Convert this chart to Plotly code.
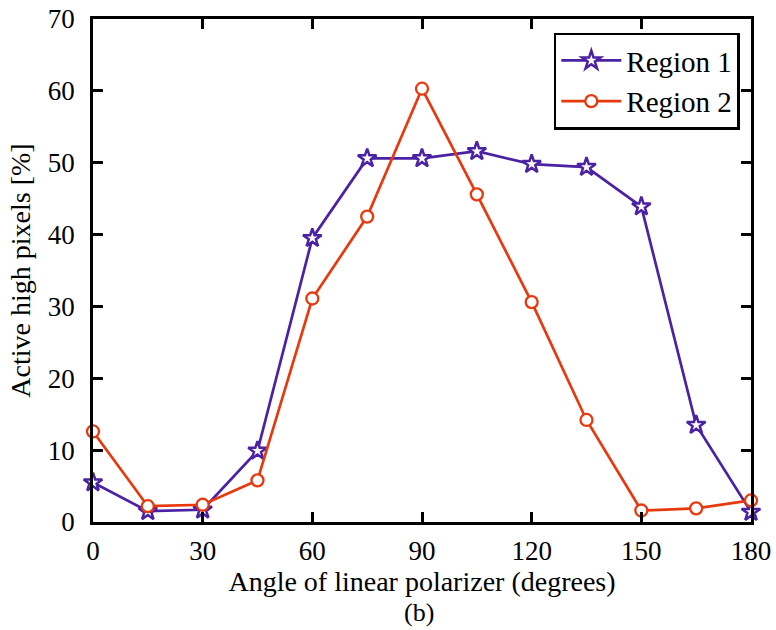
import plotly.graph_objects as go

# Polarizer angle (degrees)
angles = [0, 15, 30, 45, 60, 75, 90, 105, 120, 135, 150, 165, 180]

# Share of active high pixels [%] per region
region1 = [5.5, 1.5, 1.7, 9.9, 39.5, 50.6, 50.6, 51.6, 49.8, 49.4, 43.9, 13.5, 1.4]
region2 = [12.6, 2.2, 2.4, 5.8, 31.1, 42.5, 60.3, 45.6, 30.6, 14.2, 1.6, 1.9, 3.0]

x_ticks = [0, 30, 60, 90, 120, 150, 180]
y_ticks = [0, 10, 20, 30, 40, 50, 60, 70]

PURPLE = "#4b22a3"
ORANGE = "#e8380d"
FONT = "Liberation Serif, Times New Roman, serif"

fig = go.Figure()
fig.add_trace(go.Scatter(
    x=angles, y=region1, name="Region 1", mode="lines+markers",
    line=dict(color=PURPLE, width=2.7),
    marker=dict(symbol="star", size=14, color="white",
                line=dict(color=PURPLE, width=2.5)),
    cliponaxis=False,
))
fig.add_trace(go.Scatter(
    x=angles, y=region2, name="Region 2", mode="lines+markers",
    line=dict(color=ORANGE, width=2.7),
    marker=dict(symbol="circle", size=12, color="white",
                line=dict(color=ORANGE, width=2.3)),
    cliponaxis=False,
))

axis_common = dict(
    showline=True, linecolor="black", linewidth=2.5, mirror="ticks",
    ticks="inside", ticklen=10, tickwidth=2.5, tickcolor="black",
    showgrid=False, zeroline=False, automargin=False,
    tickfont=dict(family=FONT, size=27, color="black"),
    title_font=dict(family=FONT, size=28, color="black"),
)

fig.update_xaxes(
    range=[0, 180], tickvals=x_ticks, ticktext=[str(v) for v in x_ticks],
    title_text="Angle of linear polarizer (degrees)", title_standoff=0,
    ticklabelstandoff=3,
    **axis_common,
)
fig.update_yaxes(
    range=[0, 70], tickvals=y_ticks, ticktext=[str(v) for v in y_ticks],
    title_text="Active high pixels [%]", title_standoff=10,
    ticklabelstandoff=10,
    **axis_common,
)

fig.add_annotation(
    text="(b)", xref="paper", yref="paper", x=0.495, y=-0.18,
    xanchor="center", yanchor="middle", showarrow=False,
    font=dict(family=FONT, size=26, color="black"),
)

fig.update_layout(
    width=776, height=630,
    margin=dict(l=93, r=25, t=19, b=108),
    paper_bgcolor="white", plot_bgcolor="white",
    showlegend=True,
    legend=dict(
        x=0.983, y=0.973, xanchor="right", yanchor="top",
        bgcolor="white", bordercolor="black", borderwidth=2.5,
        font=dict(family=FONT, size=29, color="black"),
        itemwidth=60, tracegroupgap=0,
    ),
)

fig.write_html("out.html")
